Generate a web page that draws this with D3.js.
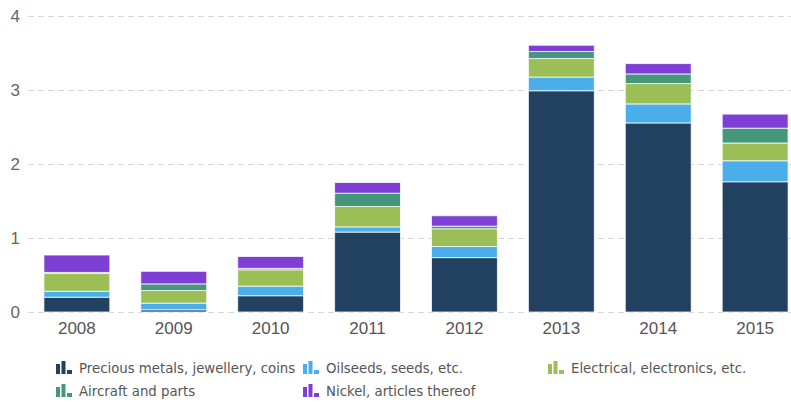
<!DOCTYPE html>
<html>
<head>
<meta charset="utf-8">
<script src="https://cdn.jsdelivr.net/npm/d3@7/dist/d3.min.js"></script>
<style>
  html, body { margin: 0; padding: 0; background: #fff; }
  svg { display: block; }
</style>
</head>
<body>
<svg id="chart" width="791" height="403"></svg>
<script>
const years = ["2008", "2009", "2010", "2011", "2012", "2013", "2014", "2015"];
const seriesNames = [
  "Precious metals, jewellery, coins",
  "Oilseeds, seeds, etc.",
  "Electrical, electronics, etc.",
  "Aircraft and parts",
  "Nickel, articles thereof"
];
const seriesColors = ["#22405f", "#4aaeea", "#9bbe57", "#44977a", "#7f3fd4"];
const preciousMetals = [0.20, 0.03, 0.22, 1.08, 0.735, 2.99, 2.555, 1.76];
const oilseeds       = [0.08, 0.09, 0.13, 0.07, 0.15, 0.185, 0.257, 0.284];
const electrical     = [0.24, 0.17, 0.22, 0.275, 0.24, 0.25, 0.275, 0.24];
const aircraft       = [0.015, 0.09, 0.02, 0.18, 0.035, 0.095, 0.13, 0.20];
const nickel         = [0.235, 0.17, 0.16, 0.145, 0.14, 0.085, 0.14, 0.19];
const yTicks = [0, 1, 2, 3, 4];

const seriesValues = [preciousMetals, oilseeds, electrical, aircraft, nickel];
const table = years.map((y, i) => {
  const row = { year: y };
  seriesNames.forEach((s, k) => row[s] = seriesValues[k][i]);
  return row;
});

const svg = d3.select("#chart");
const x = d3.scaleBand().domain(years).range([41, 791]).paddingInner(0.32).paddingOuter(0.03);
const y = d3.scaleLinear().domain([0, 4]).range([312, 16]);

// grid
const gridG = svg.append("g");
gridG.selectAll("line").data(yTicks).join("line")
  .attr("x1", 28).attr("x2", 791)
  .attr("y1", d => y(d) + 0.5).attr("y2", d => y(d) + 0.5)
  .attr("stroke", "#d6d6d6").attr("stroke-width", 1)
  .attr("stroke-dasharray", "6,4");

// y labels
svg.append("g").selectAll("text").data(yTicks).join("text")
  .attr("x", 20).attr("y", d => y(d))
  .attr("dy", "0.36em")
  .attr("text-anchor", "end")
  .attr("font-family", "Liberation Sans, Arial, sans-serif")
  .attr("font-size", 17)
  .attr("fill", "#666")
  .text(d => d);

// stacked bars
const stack = d3.stack().keys(seriesNames)(table);
svg.append("g").selectAll("g").data(stack).join("g")
  .attr("fill", (d, i) => seriesColors[i])
  .selectAll("rect").data(d => d).join("rect")
  .attr("x", d => x(d.data.year))
  .attr("width", x.bandwidth())
  .attr("y", d => y(d[1]))
  .attr("height", d => Math.max(0, y(d[0]) - y(d[1])))
  .attr("stroke", "#fff")
  .attr("stroke-opacity", 0.75)
  .attr("stroke-width", 1);

// x labels
svg.append("g").selectAll("text").data(years).join("text")
  .attr("x", d => x(d) + x.bandwidth() / 2)
  .attr("y", 334)
  .attr("text-anchor", "middle")
  .attr("font-family", "Liberation Sans, Arial, sans-serif")
  .attr("font-size", 17)
  .attr("fill", "#555")
  .text(d => d);

// legend
const legendPos = [
  [56, 368], [303, 368], [548, 368],
  [56, 391], [303, 391]
];
const lg = svg.append("g").selectAll("g").data(seriesNames).join("g")
  .attr("transform", (d, i) => `translate(${legendPos[i][0]},${legendPos[i][1]})`);
const iconBars = [[0, 4, 10], [5.5, 4, 13], [11, 5, 4]];
lg.each(function(d, i) {
  const g = d3.select(this);
  g.selectAll("rect").data(iconBars).join("rect")
    .attr("x", b => b[0]).attr("width", b => b[1])
    .attr("y", b => 6 - b[2]).attr("height", b => b[2])
    .attr("fill", seriesColors[i]);
});
lg.append("text")
  .attr("x", 23).attr("y", 5)
  .attr("font-family", "DejaVu Sans, sans-serif")
  .attr("font-size", 13.3)
  .attr("fill", "#555")
  .text(d => d);
</script>
</body>
</html>
